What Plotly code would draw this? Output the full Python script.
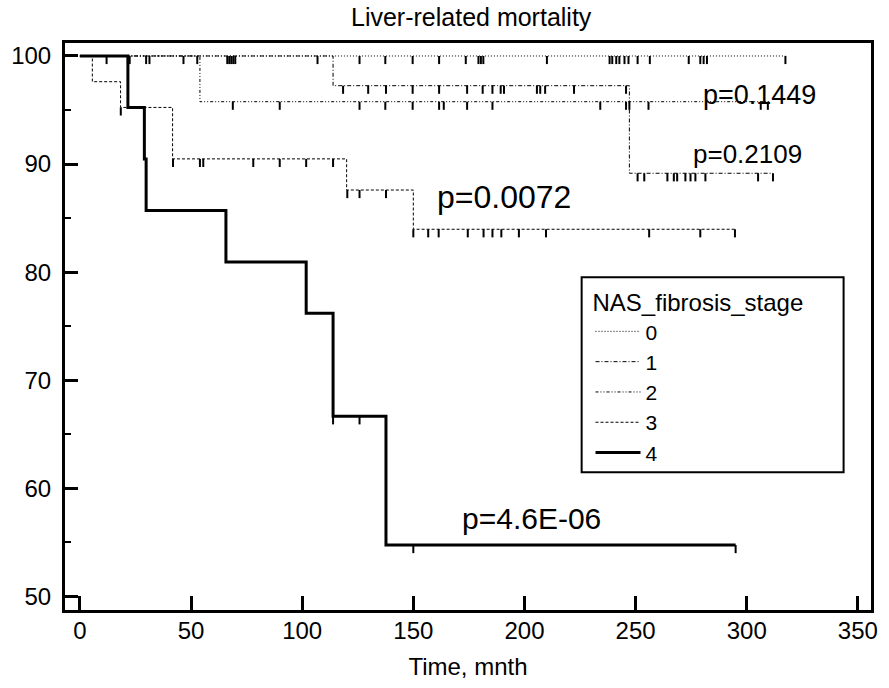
import numpy as np
import plotly.graph_objects as go

# ---------------- data ----------------
stage_names = ["0", "1", "2", "3", "4"]

s0_time = [0, 317.4]
s0_surv = [100, 100]
s0_cens = [12.0, 21.6, 22.4, 29.8, 31.3, 46.6, 52.8, 66.3, 67.2, 68.1, 69.0, 69.9,
           106.9, 125.8, 137.4, 149.7, 161.6, 173.6, 179.3, 180.4, 181.5, 210.1,
           238.3, 239.5, 241.3, 242.7, 245.0, 246.8, 250.9, 256.4, 273.9, 279.1,
           280.6, 282.1, 317.4]

s1_time = [0, 113.9, 247.2, 311.8]
s1_surv = [100, 97.25, 89.15, 89.15]
s1_cens = [118.4, 129.7, 137.7, 149.7, 161.6, 174.2, 181.2, 185.6, 189.3, 190.8,
           205.6, 207.1, 209.3, 222.3, 245.7, 250.9, 253.9, 264.3, 267.2, 268.7,
           272.4, 274.7, 276.9, 281.4, 305.1, 311.8]

s2_time = [0, 54.0, 310.7]
s2_surv = [100, 95.77, 95.77]
s2_cens = [68.8, 89.9, 125.8, 137.4, 149.7, 161.6, 163.7, 174.2, 185.6, 234.1,
           245.7, 247.2, 255.8, 306.3, 309.5]

s3_time = [0, 5.6, 18.3, 41.7, 120.0, 150.0, 294.7]
s3_surv = [100, 97.62, 95.24, 90.48, 87.6, 83.97, 83.97]
s3_cens = [18.4, 41.9, 54.0, 55.5, 78.0, 89.9, 101.8, 113.9, 120.3, 125.8, 137.7,
           150.0, 156.7, 161.4, 174.5, 181.6, 185.6, 189.6, 197.5, 209.7, 256.1,
           279.1, 294.7]

s4_time = [0, 21.6, 29.0, 29.8, 65.7, 101.8, 113.9, 137.7, 295.0]
s4_surv = [100, 95.24, 90.48, 85.71, 80.95, 76.19, 66.67, 54.76, 54.76]
s4_cens = [113.9, 125.8, 150.0, 295.0]

p_labels = ["p=0.1449", "p=0.2109", "p=0.0072", "p=4.6E-06"]
p_x = [305.8, 300.5, 191.0, 203.0]
p_y = [96.42, 90.93, 86.96, 57.2]

x_ticks = [0, 50, 100, 150, 200, 250, 300, 350]
y_ticks = [50, 60, 70, 80, 90, 100]

# ---------------- style ----------------
FONT = "Arial, Liberation Sans, sans-serif"
dashes = ["1px,2px", "4px,2px,1px,2px", "3px,2px,1px,2px,1px,2px", "3px,2px", "solid"]
widths = [1, 1, 1, 1, 3]
tick_len = 0.75  # censor tick length in y units

series = [
    (s0_time, s0_surv, s0_cens),
    (s1_time, s1_surv, s1_cens),
    (s2_time, s2_surv, s2_cens),
    (s3_time, s3_surv, s3_cens),
    (s4_time, s4_surv, s4_cens),
]

fig = go.Figure()

for name, (tt, ss, cc), dsh, w in zip(stage_names, series, dashes, widths):
    fig.add_trace(go.Scatter(
        x=tt, y=ss, mode="lines", name=name, line_shape="hv",
        line=dict(color="black", width=w, dash=dsh),
    ))

for name, (tt, ss, cc) in zip(stage_names, series):
    tt_a = np.array(tt)
    xs, ys = [], []
    for c in cc:
        i = int(np.searchsorted(tt_a, c, side="right")) - 1
        s = ss[max(i, 0)]
        xs += [c, c, None]
        ys += [s, s - tick_len, None]
    fig.add_trace(go.Scatter(
        x=xs, y=ys, mode="lines", showlegend=False, hoverinfo="skip",
        line=dict(color="black", width=2),
    ))

p_sizes = [27, 26, 32, 30]
for lab, px, py, fs in zip(p_labels, p_x, p_y, p_sizes):
    fig.add_annotation(x=px, y=py, text=lab, showarrow=False,
                       xanchor="center", yanchor="middle",
                       font=dict(family=FONT, size=fs, color="black"))

# legend frame
fig.add_shape(type="rect", xref="paper", yref="paper",
              x0=0.641, x1=0.966, y0=0.243, y1=0.587,
              line=dict(color="black", width=2), fillcolor="white", layer="below")

fig.update_layout(
    width=889, height=688,
    margin=dict(l=63, r=11, t=43, b=78),
    paper_bgcolor="white", plot_bgcolor="white",
    font=dict(family=FONT, color="black", size=22),
    title=dict(text="Liver-related mortality", x=0.53, xanchor="center",
               y=0.975, yanchor="middle", font=dict(size=25)),
    showlegend=True,
    legend=dict(
        title=dict(text="NAS_fibrosis_stage", font=dict(size=24)),
        x=0.652, y=0.582, xanchor="left", yanchor="top",
        bgcolor="rgba(0,0,0,0)", borderwidth=0,
        font=dict(size=21), itemwidth=45, traceorder="normal",
    ),
)

fig.update_xaxes(
    range=[-6.7, 355.9], tickvals=x_ticks, ticks="inside", ticklen=14, tickwidth=3,
    tickcolor="black", showline=True, linecolor="black", linewidth=3, mirror=True,
    showgrid=False, zeroline=False, tickfont=dict(size=24), ticklabelstandoff=-3,
    title=dict(text="Time, mnth", font=dict(size=24), standoff=16),
)
fig.update_yaxes(
    range=[48.75, 101.2], tickvals=y_ticks, ticks="inside", ticklen=13, tickwidth=3,
    tickcolor="black", showline=True, linecolor="black", linewidth=3, mirror=True,
    showgrid=False, zeroline=False, tickfont=dict(size=24), ticklabelstandoff=6,
    minor=dict(tickvals=[55, 65, 75, 85, 95], ticks="inside", ticklen=6,
               tickwidth=2, tickcolor="black", showgrid=False),
)

fig.write_html("out.html")
